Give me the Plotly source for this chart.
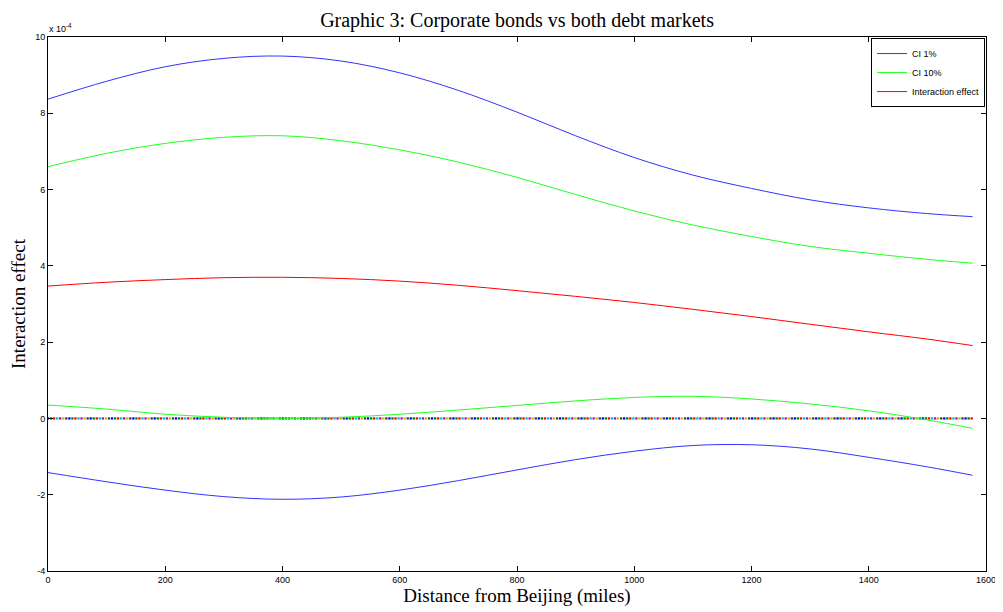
import numpy as np
import plotly.graph_objects as go

# Values in units of 1e-4
miles = [0, 100, 200, 300, 400, 500, 600, 700, 800, 900, 1000, 1100, 1200, 1300, 1400, 1500, 1577]
ci1_upper = [8.37, 8.84, 9.22, 9.44, 9.50, 9.37, 9.06, 8.60, 8.03, 7.41, 6.84, 6.38, 6.03, 5.73, 5.52, 5.37, 5.29]
ci10_upper = [6.60, 6.95, 7.21, 7.37, 7.41, 7.28, 7.04, 6.72, 6.32, 5.87, 5.44, 5.07, 4.77, 4.51, 4.33, 4.17, 4.07]
interaction = [3.47, 3.57, 3.64, 3.69, 3.70, 3.67, 3.60, 3.49, 3.35, 3.20, 3.04, 2.86, 2.67, 2.47, 2.27, 2.08, 1.91]
ci10_lower = [0.35, 0.245, 0.11, 0.03, 0.0, 0.03, 0.11, 0.22, 0.34, 0.46, 0.55, 0.58, 0.51, 0.38, 0.20, -0.04, -0.26]
ci1_lower = [-1.42, -1.66, -1.88, -2.05, -2.12, -2.06, -1.88, -1.63, -1.35, -1.08, -0.86, -0.71, -0.69, -0.80, -1.02, -1.27, -1.49]

x_ticks = [0, 200, 400, 600, 800, 1000, 1200, 1400, 1600]
y_ticks = [-4, -2, 0, 2, 4, 6, 8, 10]

# zero reference line (dotted, multicolour as in MATLAB)
zero_x = np.arange(0, 1578, 5.2)
zero_y = np.zeros_like(zero_x)
cycle = ['#0000ff', '#008000', '#ff0000', '#00bfbf', '#bf00bf', '#bfbf00', '#404040']
zero_colors = [cycle[i % len(cycle)] for i in range(len(zero_x))]

line_shape = dict(width=1, shape='spline', smoothing=1.0)

fig = go.Figure()
fig.add_trace(go.Scatter(x=zero_x, y=zero_y, mode='markers', showlegend=False,
                         marker=dict(symbol='square', size=2.3, color=zero_colors, line=dict(width=0)),
                         hoverinfo='skip'))
fig.add_trace(go.Scatter(x=miles, y=ci1_upper, mode='lines', name='CI 1%',
                         line=dict(color='#3333ff', **line_shape)))
fig.add_trace(go.Scatter(x=miles, y=ci10_upper, mode='lines', name='CI 10%',
                         line=dict(color='#22ff22', **line_shape)))
fig.add_trace(go.Scatter(x=miles, y=interaction, mode='lines', name='Interaction effect',
                         line=dict(color='#ff0000', **line_shape)))
fig.add_trace(go.Scatter(x=miles, y=ci10_lower, mode='lines', name='CI 10%', showlegend=False,
                         line=dict(color='#22ff22', **line_shape)))
fig.add_trace(go.Scatter(x=miles, y=ci1_lower, mode='lines', name='CI 1%', showlegend=False,
                         line=dict(color='#3333ff', **line_shape)))

axis_common = dict(showgrid=False, zeroline=False, showline=True, linecolor='black', linewidth=1,
                   mirror='ticks', ticks='inside', ticklen=5, tickcolor='black', automargin=False,
                   tickfont=dict(family='Liberation Sans, Arial', size=9, color='black'))

serif = 'Liberation Serif, Times New Roman'

# page body has an 8px default margin, so the figure is sized/offset to compensate
fig.update_layout(
    width=995, height=604,
    margin=dict(l=40, r=17, t=29, b=41),
    paper_bgcolor='white', plot_bgcolor='white',
    title=dict(text='Graphic 3: Corporate bonds vs both debt markets', x=0.5116, xanchor='center',
               y=0.980, yanchor='middle',
               font=dict(family=serif, size=20, color='black')),
    xaxis=dict(range=[0, 1600], tickvals=x_ticks, ticktext=[str(v) for v in x_ticks],
               title=dict(text='Distance from Beijing (miles)', standoff=1,
                          font=dict(family=serif, size=19, color='black')),
               **axis_common),
    yaxis=dict(range=[-4, 10], tickvals=y_ticks, ticktext=[str(v) for v in y_ticks],
               title=dict(text='Interaction effect', standoff=5,
                          font=dict(family=serif, size=19, color='black')),
               **axis_common),
    legend=dict(x=0.999, xanchor='right', y=0.998, yanchor='top', bgcolor='white',
                bordercolor='black', borderwidth=1, itemwidth=30, tracegroupgap=0,
                font=dict(family='Liberation Sans, Arial', size=9, color='black')),
    annotations=[dict(text='x 10<sup>-4</sup>', x=0, xref='paper', y=1, yref='paper',
                      xanchor='left', yanchor='bottom', xshift=-1, yshift=1, showarrow=False,
                      font=dict(family='Liberation Sans, Arial', size=9, color='black'))],
)

fig.write_html('out.html')
